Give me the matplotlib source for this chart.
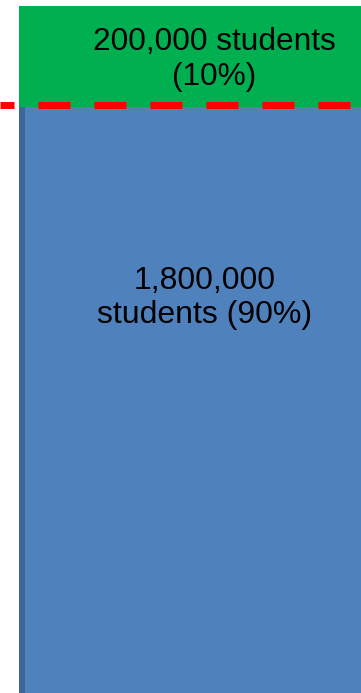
import matplotlib
matplotlib.use("Agg")
import matplotlib.pyplot as plt
from matplotlib.patches import Rectangle

# student split: stacked bar, bottom segment first
segments = ["Other students", "Top students"]
counts = [1800000, 200000]
shares = [90, 10]
labels = ["1,800,000\nstudents (90%)", "200,000 students\n(10%)"]
colors = ["#4F81BD", "#00B050"]

plt.rcParams["font.family"] = ["Liberation Sans", "DejaVu Sans"]
plt.rcParams["lines.scale_dashes"] = False

fig = plt.figure(figsize=(3.61, 6.93), dpi=100)
ax = fig.add_axes([0, 0, 1, 1])

px = counts[1] / 101.0          # students per pixel on the y scale
ax.set_ylim(counts[0] - 586 * px, sum(counts) + 6 * px)
ax.set_xlim(0, 361)

bar_left, bar_width = 19, 400
bottom = 0
for n, lab, col in zip(counts, labels, colors):
    ax.bar(bar_left, n, width=bar_width, bottom=bottom, align="edge",
           color=col, linewidth=0, zorder=1)
    bottom += n

# darker shading along the left side of the lower segment
ax.add_patch(Rectangle((bar_left, 0), 6, counts[0], color="#3C6696",
                       linewidth=0, zorder=2))

# value labels
ax.text(205, counts[0] - 191 * px, labels[0], ha="center", va="center",
        fontsize=23, color="black", linespacing=1.2, zorder=4)
ax.text(214, counts[0] + counts[1] * 0.47, labels[1], ha="center",
        va="center", fontsize=22.8, color="black", linespacing=1.2, zorder=4)

# threshold line at the boundary between the two groups
ax.axhline(counts[0] + 2.5 * px, color="#FF0000", linewidth=5.0,
           linestyle=(12.96, (23.04, 17.28)), dash_capstyle="butt", zorder=3)

ax.axis("off")
fig.savefig("out.png", dpi=100)
